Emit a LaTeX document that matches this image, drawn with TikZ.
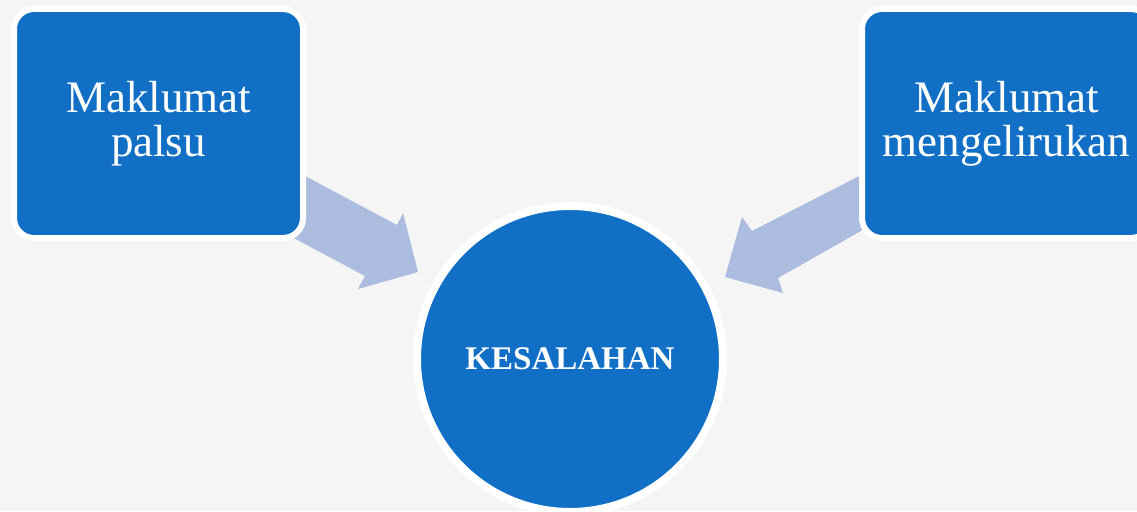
\documentclass[tikz,border=0pt]{standalone}
\usepackage{fontspec}
\setmainfont{Liberation Serif}
\definecolor{boxblue}{HTML}{1170C6}
\definecolor{arrowblue}{HTML}{ABBCDF}
\definecolor{bg}{HTML}{F5F5F5}
\begin{document}
\begin{tikzpicture}[x=1pt,y=-1pt,
  sqbox/.style={draw=white,line width=6pt,fill=boxblue,rounded corners=20pt,
    minimum width=289pt,minimum height=229pt,inner sep=0pt,text=white,
    align=center,font=\fontsize{45}{44}\selectfont},
  ring/.style={circle,draw=white,line width=8pt,fill=boxblue,minimum size=306pt,
    inner sep=0pt,text=white,font=\fontsize{33}{36}\selectfont\bfseries},
  blockarrow/.style={fill=arrowblue}]
\fill[bg] (0,0) rectangle (1137,511);
\clip (0,0) rectangle (1137,511);
\useasboundingbox (0,0) rectangle (1137,511);
% arrows (behind boxes)
\fill[blockarrow] (290,168) -- (397,225) -- (403,213) -- (418,272) -- (358,289) -- (365,276) -- (290,236) -- cycle;
\fill[blockarrow] (875,168) -- (752,231) -- (742,217) -- (725,277) -- (783,293) -- (778,278) -- (875,223) -- cycle;
\node[sqbox] (a) at (158.5,123.5) {Maklumat\\palsu};
\node[sqbox] (b) at (1006.5,123.5) {Maklumat\\mengelirukan};
\node[ring] (c) at (570,359) {KESALAHAN};
\end{tikzpicture}
\end{document}
